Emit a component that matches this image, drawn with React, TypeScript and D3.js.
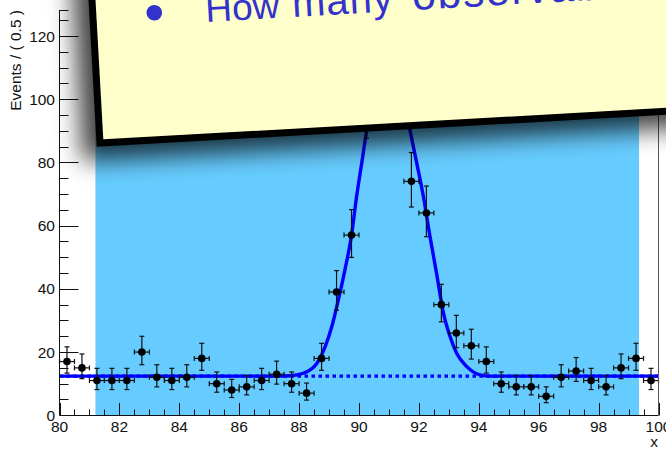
import React from 'react';
import * as d3 from 'd3';

// bin centres (0.5 wide bins) and observed counts
const binCenters = [
  80.25, 80.75, 81.25, 81.75, 82.25, 82.75, 83.25, 83.75, 84.25, 84.75,
  85.25, 85.75, 86.25, 86.75, 87.25, 87.75, 88.25, 88.75, 89.25, 89.75,
  90.25, 90.75, 91.25, 91.75, 92.25, 92.75, 93.25, 93.75, 94.25, 94.75,
  95.25, 95.75, 96.25, 96.75, 97.25, 97.75, 98.25, 98.75, 99.25, 99.75,
];
const counts = [
  17, 15, 11, 11, 11, 20, 12, 11, 12, 18,
  10, 8, 9, 11, 13, 10, 7, 18, 39, 57,
  97, 112, 108, 74, 64, 35, 26, 22, 17, 10,
  9, 9, 6, 12, 14, 11, 9, 15, 18, 11,
];

// fitted model (signal + background)
const fitX = [80, 87.3, 87.7, 88.14, 88.59, 88.87, 89.09, 89.31, 89.53, 89.76, 89.92, 90.09, 90.26, 90.6, 91.0, 91.35, 91.7, 91.93, 92.15, 92.37, 92.59, 92.82, 93.04, 93.26, 93.6, 94.04, 94.4, 100];
const fitY = [12.4, 12.4, 12.5, 13.3, 16.4, 21.7, 28.0, 36.5, 46.0, 57.6, 69.2, 79.7, 90.3, 106, 115, 106, 90.3, 79.7, 69.2, 56.6, 44.9, 32.3, 24.9, 19.6, 15.4, 12.8, 12.4, 12.4];
const bkgX = [80, 100];
const bkgY = [12.4, 12.4];

const xTicks = [80, 82, 84, 86, 88, 90, 92, 94, 96, 98, 100];
const yTicks = [0, 20, 40, 60, 80, 100, 120];
const bandRange = [81.2, 99.35];
const binWidth = 0.5;

const W = 666;
const H = 449;
const FONT = '"Liberation Sans", Arial, Helvetica, sans-serif';

export default function App() {
  const x = d3.scaleLinear().domain([80, 100]).range([59.5, 658.5]);
  const y = d3.scaleLinear().domain([0, 128.2]).range([415.3, 10]);

  const minorX = d3.range(80, 100.01, 0.5).filter(v => !xTicks.includes(v));
  const minorY = d3.range(0, 128, 5).filter(v => !yTicks.includes(v));

  const fitLine = d3.line<number>()
    .x((_, i) => x(fitX[i]))
    .y(d => y(d))
    .curve(d3.curveMonotoneX);
  const bkgLine = d3.line<number>()
    .x((_, i) => x(bkgX[i]))
    .y(d => y(d));

  // Poisson-like asymmetric errors
  const errLo = (n: number) => Math.sqrt(n + 0.25) - 0.5;
  const errHi = (n: number) => Math.sqrt(n + 0.25) + 0.5;

  const angle = -3.2;

  return (
    <svg width={W} height={H} style={{ position: 'absolute', left: 0, top: 0, display: 'block', background: '#fff' }} fontFamily={FONT}>
      <defs>
        <filter id="blur" x="-50%" y="-50%" width="200%" height="200%">
          <feGaussianBlur stdDeviation="12" />
        </filter>
      </defs>
      <rect width={W} height={H} fill="#fff" />

      {/* highlighted band */}
      <rect x={x(bandRange[0])} y={0} width={x(bandRange[1]) - x(bandRange[0])} height={y(0)} fill="#66ccff" />

      {/* background component, dotted */}
      <path d={bkgLine(bkgY) || ''} fill="none" stroke="#0000ff" strokeWidth={3.2} strokeDasharray="3.5,3.5" />
      {/* full model */}
      <path d={fitLine(fitY) || ''} fill="none" stroke="#0000ff" strokeWidth={3.4} />

      {/* data points */}
      <g stroke="#111" strokeWidth={1.2}>
        {binCenters.map((c, i) => {
          const n = counts[i];
          const cx = x(c);
          const cy = y(n);
          const x0 = x(c - binWidth / 2);
          const x1 = x(c + binWidth / 2);
          const yt = y(n + errHi(n));
          const yb = y(n - errLo(n));
          return (
            <g key={c}>
              <line x1={x0} x2={x1} y1={cy} y2={cy} />
              <line x1={x0} x2={x0} y1={cy - 2.5} y2={cy + 2.5} />
              <line x1={x1} x2={x1} y1={cy - 2.5} y2={cy + 2.5} />
              <line x1={cx} x2={cx} y1={yt} y2={yb} />
              <line x1={cx - 2.5} x2={cx + 2.5} y1={yt} y2={yt} />
              <line x1={cx - 2.5} x2={cx + 2.5} y1={yb} y2={yb} />
              <circle cx={cx} cy={cy} r={3.8} fill="#000" stroke="none" />
            </g>
          );
        })}
      </g>

      {/* axes */}
      <g stroke="#111" strokeWidth={1}>
        <line x1={59.5} x2={59.5} y1={10} y2={415.5} />
        <line x1={59.5} x2={658.5} y1={415.5} y2={415.5} />
        <line x1={658.5} x2={658.5} y1={10} y2={415.5} stroke="#555" />
        <line x1={59.5} x2={68.5} y1={10.5} y2={10.5} />
        {xTicks.map(t => (
          <line key={'xt' + t} x1={Math.round(x(t)) + 0.5} x2={Math.round(x(t)) + 0.5} y1={415.5} y2={403} />
        ))}
        {minorX.map(t => (
          <line key={'xm' + t} x1={Math.round(x(t)) + 0.5} x2={Math.round(x(t)) + 0.5} y1={415.5} y2={409.5} />
        ))}
        {yTicks.map(t => (
          <line key={'yt' + t} x1={59.5} x2={78.5} y1={Math.round(y(t)) + 0.5} y2={Math.round(y(t)) + 0.5} />
        ))}
        {minorY.map(t => (
          <line key={'ym' + t} x1={59.5} x2={68.5} y1={Math.round(y(t)) + 0.5} y2={Math.round(y(t)) + 0.5} />
        ))}
      </g>
      <g fontSize={15.5} fill="#111">
        {xTicks.map(t => (
          <text key={'xl' + t} x={x(t)} y={432} textAnchor="middle">{t}</text>
        ))}
        {yTicks.map(t => (
          <text key={'yl' + t} x={55} y={y(t)} dy="0.36em" textAnchor="end">{t}</text>
        ))}
        <text x={658} y={447} textAnchor="end">x</text>
        <text transform="translate(21,10) rotate(-90)" textAnchor="end">Events / ( 0.5 )</text>
      </g>

      {/* slide note with shadow */}
      <g transform={`translate(82.7,160.7) rotate(${angle})`} filter="url(#blur)">
        <rect x={0} y={-500} width={800} height={500} fill="#000" opacity={0.75} />
      </g>
      <g transform={`translate(96.7,146.7) rotate(${angle})`}>
        <rect x={0} y={-500} width={800} height={500} fill="#000" />
        <rect x={7} y={-500} width={793} height={493} fill="#ffffcc" />
      </g>
      <g transform="translate(206,22) rotate(-3.3)" fill="#3333cc">
        <text x={-51} y={7} fontSize={58} textAnchor="middle">•</text>
        <text y={0}>
          <tspan x={0} fontSize={37}>How</tspan>
          <tspan x={87} fontSize={40} letterSpacing={1}>many</tspan>
          <tspan x={207} fontSize={43} letterSpacing={1.5}>observables</tspan>
        </text>
      </g>
    </svg>
  );
}
